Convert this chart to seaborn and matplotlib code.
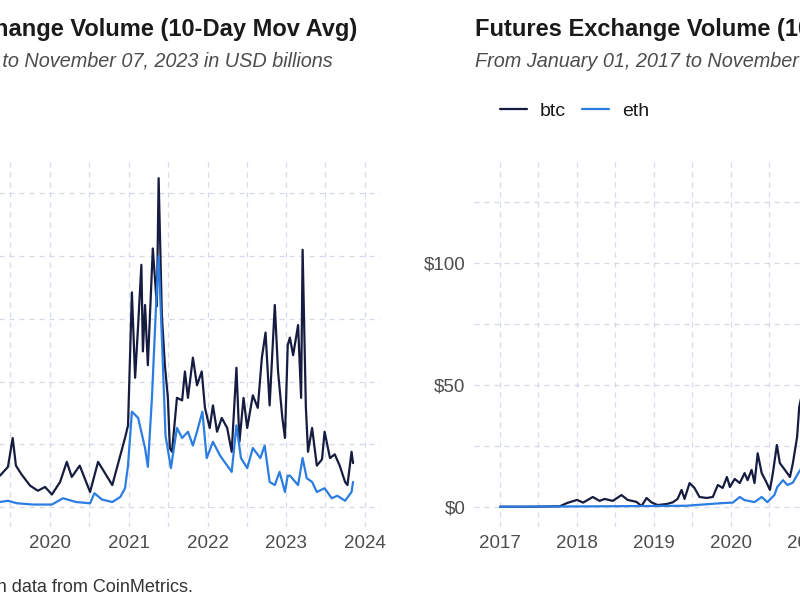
import pandas as pd
import seaborn as sns
import matplotlib.pyplot as plt
import matplotlib.dates as mdates
from matplotlib.lines import Line2D

# spot exchange volume, 10-day moving average, USD billions
spot_btc_dates = ['2019-04-20', '2019-05-14', '2019-06-20', '2019-07-12', '2019-07-27', '2019-08-22',
                  '2019-10-01', '2019-11-06', '2019-12-09', '2020-01-10', '2020-02-17', '2020-03-19',
                  '2020-04-11', '2020-05-18', '2020-07-05', '2020-08-11', '2020-08-29', '2020-10-16',
                  '2020-11-22', '2020-12-14', '2020-12-28', '2021-01-15', '2021-01-30', '2021-02-13',
                  '2021-02-28', '2021-03-07', '2021-03-17', '2021-03-30', '2021-04-22', '2021-05-11',
                  '2021-05-19', '2021-06-03', '2021-06-17', '2021-07-01', '2021-07-10', '2021-07-20',
                  '2021-08-12', '2021-09-05', '2021-09-18', '2021-10-02', '2021-10-25', '2021-11-13',
                  '2021-12-05', '2021-12-20', '2022-01-11', '2022-01-26', '2022-02-14', '2022-03-08',
                  '2022-04-02', '2022-04-23', '2022-05-15', '2022-05-29', '2022-06-17', '2022-07-04',
                  '2022-07-30', '2022-08-22', '2022-09-10', '2022-09-27', '2022-10-16', '2022-11-09',
                  '2022-11-24', '2022-12-14', '2022-12-26', '2023-01-08', '2023-01-18', '2023-02-02',
                  '2023-02-25', '2023-03-11', '2023-03-18', '2023-04-02', '2023-04-12', '2023-05-01',
                  '2023-05-23', '2023-06-16', '2023-06-28', '2023-07-23', '2023-08-14', '2023-09-06',
                  '2023-10-01', '2023-10-12', '2023-10-31', '2023-11-07']
spot_btc = [3.0, 2.5, 3.2, 5.5, 3.3, 2.6, 1.7, 1.3, 1.6, 1.0, 2.0, 3.6,
            2.4, 3.3, 1.2, 3.6, 3.1, 1.75, 4.1, 5.5, 6.5, 17.1, 10.3, 14.5,
            19.3, 12.4, 16.1, 11.3, 20.6, 16.0, 26.2, 15.3, 11.3, 8.7, 4.7, 4.4,
            8.7, 8.5, 10.8, 8.7, 11.9, 9.7, 10.8, 7.9, 6.3, 8.1, 6.0, 7.1,
            6.3, 4.4, 11.1, 5.2, 8.7, 6.3, 8.9, 7.9, 11.9, 13.9, 8.1, 16.1,
            10.8, 7.1, 5.5, 12.9, 13.5, 12.1, 14.5, 8.7, 20.5, 8.0, 4.4, 6.3,
            3.3, 3.8, 6.0, 3.9, 4.2, 3.3, 2.0, 1.75, 4.4, 3.5]

spot_eth_dates = ['2019-04-20', '2019-05-14', '2019-06-20', '2019-08-01', '2019-10-15', '2020-01-10',
                  '2020-03-01', '2020-05-01', '2020-07-05', '2020-07-25', '2020-08-29', '2020-10-16',
                  '2020-11-22', '2020-12-14', '2020-12-28', '2021-01-15', '2021-02-13', '2021-03-17',
                  '2021-03-30', '2021-04-18', '2021-05-07', '2021-05-19', '2021-06-03', '2021-06-20',
                  '2021-07-15', '2021-08-12', '2021-09-05', '2021-10-02', '2021-10-25', '2021-11-13',
                  '2021-12-08', '2021-12-28', '2022-01-26', '2022-02-28', '2022-04-02', '2022-04-23',
                  '2022-05-15', '2022-06-05', '2022-07-04', '2022-07-30', '2022-09-03', '2022-09-23',
                  '2022-10-16', '2022-11-09', '2022-12-01', '2022-12-26', '2023-01-08', '2023-01-18',
                  '2023-02-25', '2023-03-18', '2023-04-06', '2023-05-01', '2023-05-23', '2023-06-28',
                  '2023-07-31', '2023-08-26', '2023-10-01', '2023-10-31', '2023-11-07']
spot_eth = [0.6, 0.4, 0.5, 0.3, 0.2, 0.2,
            0.7, 0.4, 0.3, 1.1, 0.6, 0.4,
            0.8, 1.5, 3.3, 7.6, 7.1, 4.7,
            3.2, 8.7, 16.0, 20.0, 13.5, 5.7,
            3.1, 6.3, 5.5, 6.0, 4.9, 6.0,
            7.6, 3.9, 5.2, 4.1, 3.3, 2.8,
            6.5, 3.9, 3.1, 4.7, 3.9, 4.9,
            2.0, 1.75, 2.8, 1.2, 2.5, 2.5,
            1.75, 3.9, 2.3, 2.0, 1.2, 1.5,
            0.7, 0.9, 0.5, 1.2, 2.0]

# futures exchange volume, 10-day moving average, USD billions
fut_btc_dates = ['2017-01-01', '2017-06-01', '2017-10-12', '2017-11-14', '2018-01-01', '2018-01-30',
                 '2018-03-17', '2018-04-18', '2018-05-12', '2018-06-20', '2018-07-31', '2018-08-29',
                 '2018-10-10', '2018-11-03', '2018-11-27', '2018-12-20', '2019-01-18', '2019-03-01',
                 '2019-03-31', '2019-04-23', '2019-05-12', '2019-05-26', '2019-06-19', '2019-07-12',
                 '2019-08-05', '2019-09-08', '2019-10-07', '2019-10-31', '2019-11-23', '2019-12-13',
                 '2019-12-27', '2020-01-19', '2020-02-12', '2020-03-06', '2020-03-20', '2020-04-08',
                 '2020-04-22', '2020-05-07', '2020-05-26', '2020-06-19', '2020-07-04', '2020-07-18',
                 '2020-08-06', '2020-08-20', '2020-09-13', '2020-10-07', '2020-10-21', '2020-11-10',
                 '2020-11-20', '2020-12-17']
fut_btc = [0.1, 0.1, 0.3, 1.6, 2.9, 1.8,
           4.1, 2.5, 3.3, 2.5, 4.9, 2.9,
           2.1, 0.4, 3.7, 1.9, 0.8, 1.2,
           1.9, 3.3, 7.0, 3.3, 9.8, 7.8,
           4.1, 3.7, 4.1, 9.0, 7.8, 12.3,
           8.2, 11.5, 9.8, 13.9, 11.0, 15.2,
           9.8, 22.0, 13.9, 9.8, 7.0, 13.9,
           25.4, 18.0, 15.2, 12.3, 18.0, 28.7,
           41.0, 52.0]

fut_eth_dates = ['2017-01-01', '2017-10-12', '2018-06-01', '2019-06-01', '2019-11-23', '2020-01-10',
                 '2020-02-12', '2020-03-06', '2020-03-25', '2020-04-22', '2020-05-26', '2020-06-22',
                 '2020-07-25', '2020-08-08', '2020-09-04', '2020-09-25', '2020-10-21', '2020-11-16',
                 '2020-12-17']
fut_eth = [0.1, 0.2, 0.3, 0.5, 1.6, 1.8,
           4.1, 2.8, 2.5, 2.0, 4.1, 2.0,
           4.9, 8.2, 11.0, 9.0, 10.0, 14.0,
           18.0]

btc_color = '#161c40'
eth_color = '#2b7de2'
grid_color = '#d3d9e6'

sns.set_theme(style='white')
plt.rcParams['font.family'] = ['Liberation Sans', 'DejaVu Sans']


def long_df(btc_dates, btc, eth_dates, eth):
    a = pd.DataFrame({'date': pd.to_datetime(btc_dates), 'value': btc, 'asset': 'btc'})
    b = pd.DataFrame({'date': pd.to_datetime(eth_dates), 'value': eth, 'asset': 'eth'})
    return pd.concat([a, b], ignore_index=True)


spot_df = long_df(spot_btc_dates, spot_btc, spot_eth_dates, spot_eth)
fut_df = long_df(fut_btc_dates, fut_btc, fut_eth_dates, fut_eth)

fig = plt.figure(figsize=(8, 6), dpi=100)
W, H = 800, 600
ax1 = fig.add_axes([-213 / W, 73 / H, 593 / W, 367 / H])
ax2 = fig.add_axes([473.7 / W, 73 / H, 580 / W, 367 / H])

x_lo, x_hi = pd.Timestamp('2016-08-29'), pd.Timestamp('2024-03-11')
years = [pd.Timestamp(f'{y}-01-01') for y in range(2017, 2025)]
halves = [pd.Timestamp(f'{y}-07-01') for y in range(2017, 2024)]

for ax, df, ylim, major, minor in [
    (ax1, spot_df, (-1.59, 27.65), [0, 10, 20], [5, 15, 25]),
    (ax2, fut_df, (-8.2, 142.2), [0, 50, 100], [25, 75, 125]),
]:
    sns.lineplot(data=df, x='date', y='value', hue='asset',
                 palette={'btc': btc_color, 'eth': eth_color},
                 linewidth=1.6, ax=ax, legend=False)
    ax.set_xticks(years)
    ax.set_xticks(halves, minor=True)
    ax.xaxis.set_major_formatter(mdates.DateFormatter('%Y'))
    ax.set_yticks(major)
    ax.set_yticklabels([f'${v}' for v in major])
    ax.set_yticks(minor, minor=True)
    # limits last, so the tick setters cannot widen them
    ax.set_xlim(x_lo, x_hi)
    ax.set_ylim(*ylim)
    ax.grid(True, which='both', color=grid_color, linestyle=(0, (4, 4)), linewidth=0.9)
    ax.set_axisbelow(True)
    for s in ax.spines.values():
        s.set_visible(False)
    ax.tick_params(which='both', length=0, labelsize=13.5, labelcolor='#4d4d4d')
    ax.tick_params(axis='y', pad=6)
    ax.tick_params(axis='x', pad=6)
    ax.set_xlabel('')
    ax.set_ylabel('')

# titles
fig.text(357 / W, 1 - 36 / H, 'Spot Exchange Volume (10-Day Mov Avg)',
         ha='right', va='baseline', fontsize=17, fontweight='bold', color='#1a1a1a')
fig.text(333 / W, 1 - 67 / H, 'From January 01, 2017 to November 07, 2023 in USD billions',
         ha='right', va='baseline', fontsize=14.3, style='italic', color='#4d4d4d')
fig.text(475 / W, 1 - 36 / H, 'Futures Exchange Volume (10-Day Mov Avg)',
         ha='left', va='baseline', fontsize=17, fontweight='bold', color='#1a1a1a')
fig.text(475 / W, 1 - 67 / H, 'From January 01, 2017 to November 07, 2023 in USD billions',
         ha='left', va='baseline', fontsize=14.3, style='italic', color='#4d4d4d')

# legend
handles = [Line2D([], [], color=btc_color, linewidth=1.6),
           Line2D([], [], color=eth_color, linewidth=1.6)]
ax2.legend(handles, ['btc', 'eth'], loc='center left', bbox_to_anchor=(490 / W, 1 - 111 / H),
           bbox_transform=fig.transFigure, ncol=2, frameon=False, fontsize=14,
           handlelength=1.4, handletextpad=0.67, columnspacing=0.8, borderpad=0,
           labelcolor='#1a1a1a')

# caption
fig.text(193 / W, 1 - 592 / H, 'Source: Author\'s calculations with data from CoinMetrics.',
         ha='right', va='baseline', fontsize=13, color='#333333')

fig.savefig('out.png', dpi=100, facecolor='white')
